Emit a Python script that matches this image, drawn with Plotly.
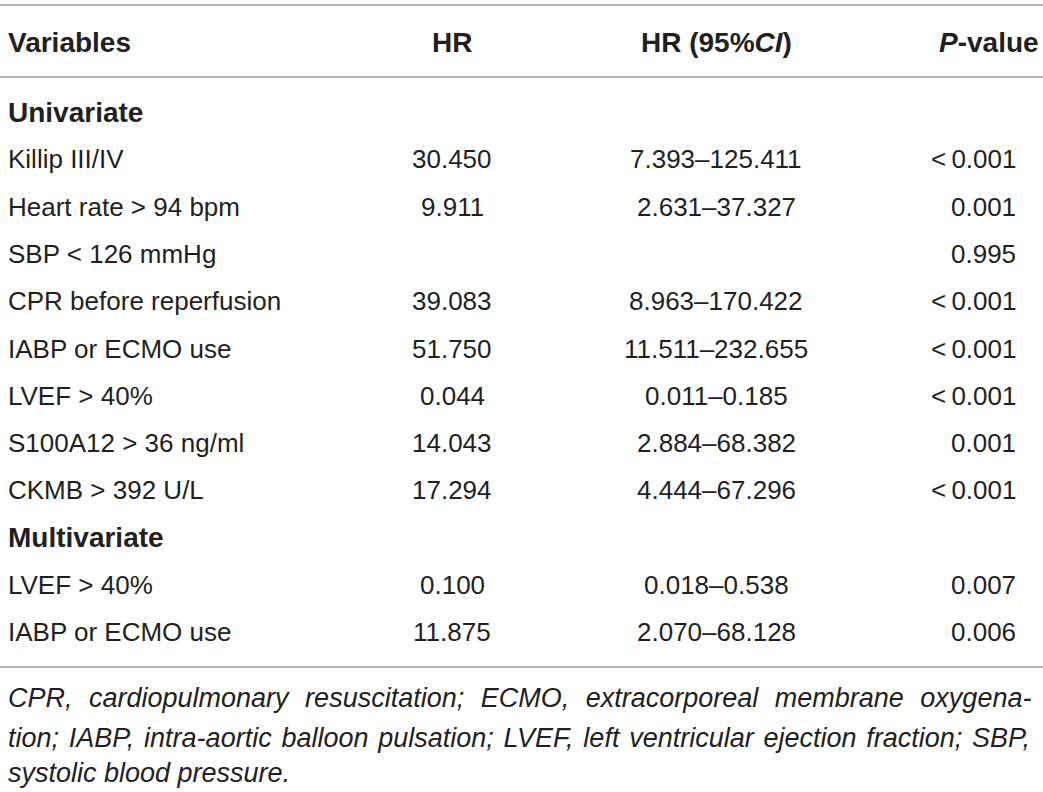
import plotly.graph_objects as go

# ---- data ----
headers = ["<b>Variables</b>", "<b>HR</b>", "<b>HR (95%<i>CI</i>)</b>", "<b><i>P</i>-value</b>"]
sections = ["Univariate", "Multivariate"]
uni_vars = ["Killip III/IV", "Heart rate > 94 bpm", "SBP < 126 mmHg", "CPR before reperfusion",
            "IABP or ECMO use", "LVEF > 40%", "S100A12 > 36 ng/ml", "CKMB > 392 U/L"]
uni_hr = ["30.450", "9.911", "", "39.083", "51.750", "0.044", "14.043", "17.294"]
uni_ci = ["7.393–125.411", "2.631–37.327", "", "8.963–170.422", "11.511–232.655",
          "0.011–0.185", "2.884–68.382", "4.444–67.296"]
uni_p = ["<\u20090.001", "0.001", "0.995", "<\u20090.001", "<\u20090.001", "<\u20090.001", "0.001", "<\u20090.001"]
multi_vars = ["LVEF > 40%", "IABP or ECMO use"]
multi_hr = ["0.100", "11.875"]
multi_ci = ["0.018–0.538", "2.070–68.128"]
multi_p = ["0.007", "0.006"]
footnote = ["CPR, cardiopulmonary resuscitation; ECMO, extracorporeal membrane oxygena-",
            "tion; IABP, intra-aortic balloon pulsation; LVEF, left ventricular ejection fraction; SBP,",
            "systolic blood pressure."]

# ---- layout constants ----
W, H = 1043, 792
FONT = "Liberation Sans"
COLOR = "#231f20"
FS = 26
BOLD_FS = 28
FOOT_FS = 27
col_x = [6, 452, 716, 1018]
col_anchor = ["left", "center", "center", "right"]
header_y = 42
row0_y = 112
row_step = 47.3
foot_y = [698, 738, 773]
foot_extra = ["\u2004", "\u200a", ""]  # justification padding per gap

fig = go.Figure()
ann = []

def add_text(x, y, text, anchor, size=FS):
    ann.append(dict(x=x, y=y, xref="x", yref="y", text=text,
                    showarrow=False, xanchor=anchor, yanchor="middle",
                    font=dict(family=FONT, size=size, color=COLOR)))

# header
for j, h in enumerate(headers):
    x = col_x[j] if j != 3 else 1041
    add_text(x, header_y, h, col_anchor[j], size=BOLD_FS)

# rows
rows = [("section", sections[0])]
rows += [("row", (v, a, b, c)) for v, a, b, c in zip(uni_vars, uni_hr, uni_ci, uni_p)]
rows += [("section", sections[1])]
rows += [("row", (v, a, b, c)) for v, a, b, c in zip(multi_vars, multi_hr, multi_ci, multi_p)]

for i, (kind, content) in enumerate(rows):
    y = row0_y + i * row_step
    if kind == "section":
        add_text(col_x[0], y, f"<b>{content}</b>", "left", size=BOLD_FS)
    else:
        for j, t in enumerate(content):
            if t:
                add_text(col_x[j], y, t, col_anchor[j])

# footnote (justified by padding the gaps)
for t, y, pad in zip(footnote, foot_y, foot_extra):
    add_text(col_x[0], y, "<i>" + t.replace(" ", " " + pad) + "</i>", "left", size=FOOT_FS)

# rules
shapes = []
for y in [5, 77, 667]:
    shapes.append(dict(type="line", xref="x", yref="y", x0=0, x1=W, y0=y, y1=y,
                       line=dict(color="#9a9a9a", width=1.5)))

fig.add_trace(go.Scatter(x=[0, W], y=[0, H], mode="markers", marker=dict(opacity=0),
                         hoverinfo="skip", showlegend=False))
fig.update_layout(width=W, height=H, margin=dict(l=0, r=0, t=0, b=0, pad=0),
                  paper_bgcolor="white", plot_bgcolor="white",
                  annotations=ann, shapes=shapes,
                  xaxis=dict(range=[0, W], visible=False, fixedrange=True),
                  yaxis=dict(range=[H, 0], visible=False, fixedrange=True))
fig.write_html("out.html", config={"displayModeBar": False},
               post_script="document.body.style.margin='0';document.body.style.overflow='hidden';")
